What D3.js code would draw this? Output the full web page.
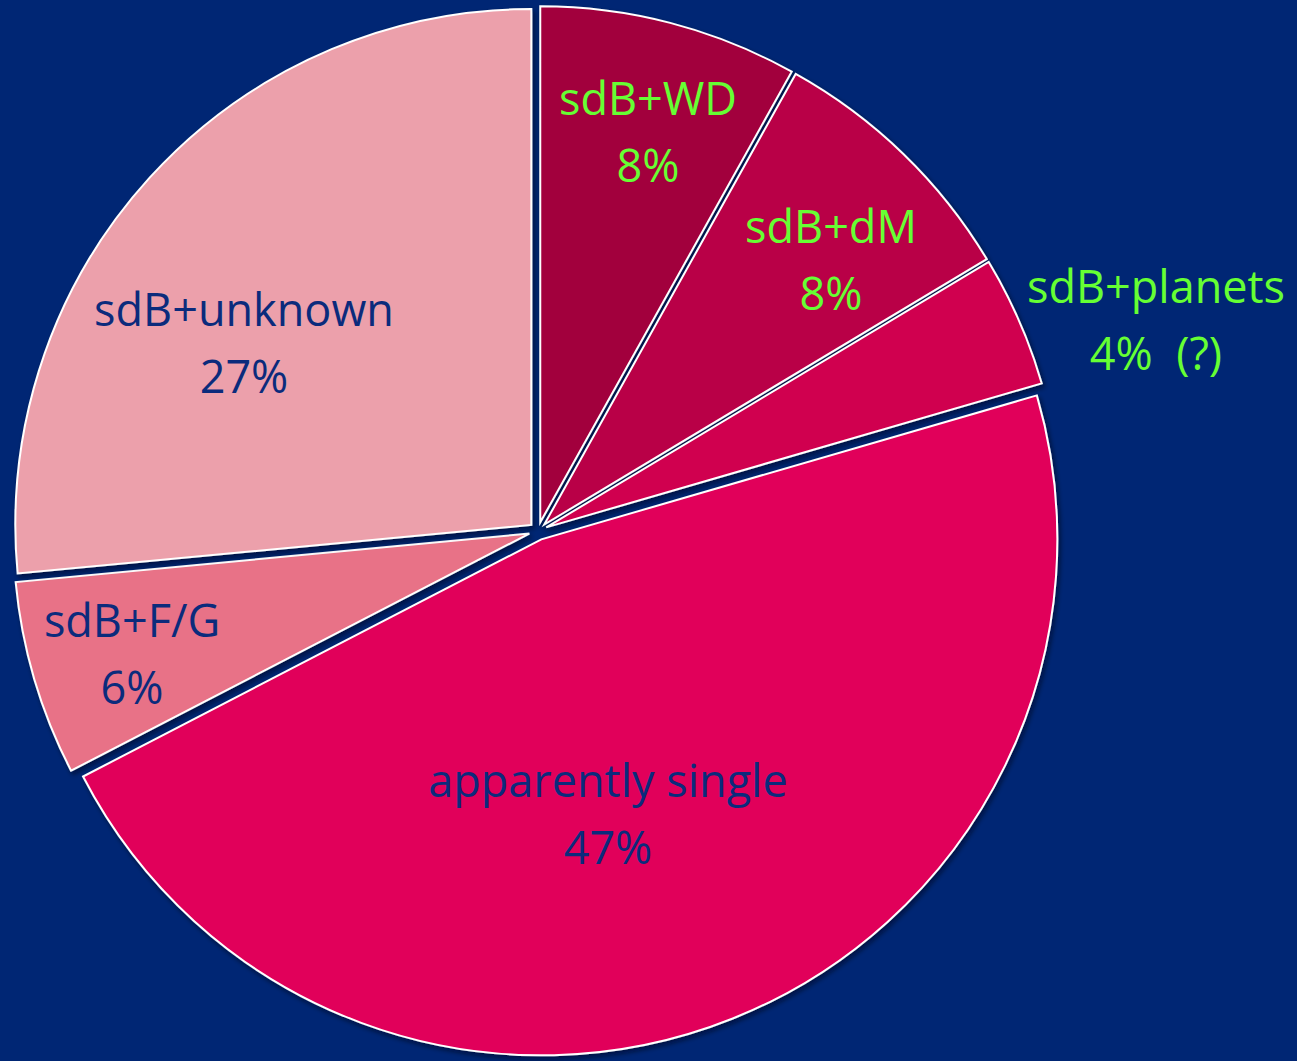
<!DOCTYPE html>
<html>
<head>
<meta charset="utf-8">
<script src="https://cdn.jsdelivr.net/npm/d3@7"></script>
<style>
  html, body { margin: 0; padding: 0; background: #002674; }
  svg { display: block; }
</style>
</head>
<body>
<svg id="chart" width="1297" height="1061"></svg>
<script>
// ---- data ----
const categories = ["sdB+WD", "sdB+dM", "sdB+planets", "apparently single", "sdB+F/G", "sdB+unknown"];
const values = [8.1, 8.3, 4.1, 46.9, 6.1, 26.5];
const percentLabels = ["8%", "8%", "4%  (?)", "47%", "6%", "27%"];

// ---- styling / layout (not data) ----
const sliceColors = ["#A2003C", "#B90046", "#D0004F", "#E1005A", "#E87287", "#ECA0AB"];
const labelColors = ["#66FF33", "#66FF33", "#66FF33", "#0B2B7C", "#0B2B7C", "#0B2B7C"];
const labelAnchors = [[648, 115], [831, 243], [1156, 303], [608, 797], [132, 637], [244, 326]];
const lineGap = 66.5;

const W = 1297, H = 1061;
const cx = 538, cy = 531, R = 516, explode = 9;

const svg = d3.select("#chart");
svg.append("rect").attr("width", W).attr("height", H).attr("fill", "#002674");

const defs = svg.append("defs");
const f = defs.append("filter").attr("id", "shadow").attr("x", "-10%").attr("y", "-10%").attr("width", "120%").attr("height", "120%");
f.append("feDropShadow").attr("dx", 2).attr("dy", 3).attr("stdDeviation", 2.5)
  .attr("flood-color", "#000010").attr("flood-opacity", 0.55);

const pie = d3.pie().sort(null).value(d => d.value).startAngle(0).endAngle(2 * Math.PI);
const arc = d3.arc().innerRadius(0).outerRadius(R);

const data = categories.map((c, i) => ({ name: c, value: values[i], pct: percentLabels[i], i }));
const arcs = pie(data);

const g = svg.append("g").attr("transform", `translate(${cx},${cy})`);

g.selectAll("path.slice")
  .data(arcs)
  .join("path")
  .attr("class", "slice")
  .attr("transform", d => {
    const m = (d.startAngle + d.endAngle) / 2;
    return `translate(${explode * Math.sin(m)},${-explode * Math.cos(m)})`;
  })
  .attr("d", arc)
  .attr("fill", d => sliceColors[d.data.i])
  .attr("stroke", "#FFFFFF")
  .attr("stroke-width", 2)
  .attr("stroke-linejoin", "miter")
  .attr("filter", "url(#shadow)");

const labels = svg.append("g")
  .attr("font-family", "'Comic Sans MS', 'Open Sans', sans-serif")
  .attr("font-size", 45)
  .attr("text-anchor", "middle");

const lab = labels.selectAll("g.lab")
  .data(data)
  .join("g")
  .attr("class", "lab")
  .attr("fill", d => labelColors[d.i]);

lab.append("text")
  .attr("x", d => labelAnchors[d.i][0])
  .attr("y", d => labelAnchors[d.i][1])
  .text(d => d.name);

lab.append("text")
  .attr("x", d => labelAnchors[d.i][0])
  .attr("y", d => labelAnchors[d.i][1] + lineGap)
  .attr("xml:space", "preserve")
  .style("white-space", "pre")
  .text(d => d.pct);
</script>
</body>
</html>
